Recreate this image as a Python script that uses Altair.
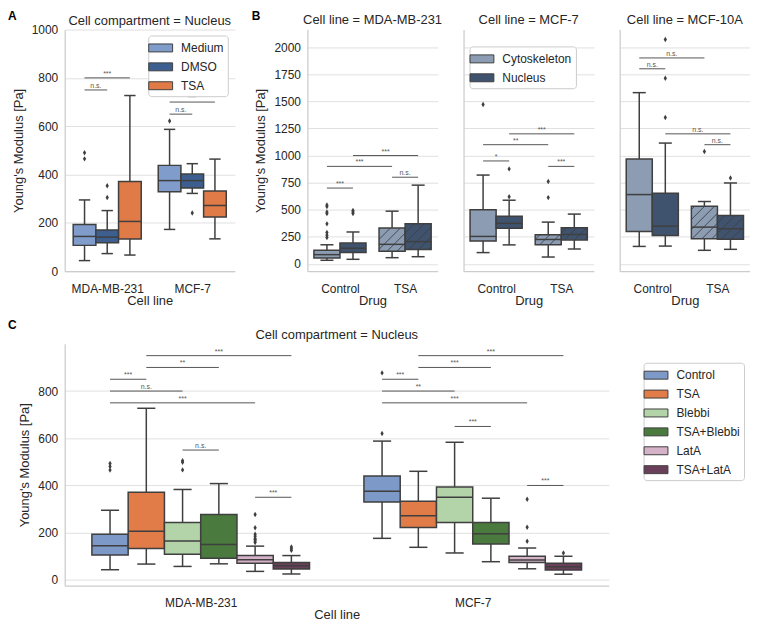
import altair as alt
import pandas as pd

FONT = "Liberation Sans"
INK = "#262626"
EDGE = "#3f3f3f"
SIGC = "#555555"
RECT_PATH = "M-1.5,-0.5H1.5V0.5H-1.5Z"
DIAMOND = "M0,-1L0.6,0L0,1L-0.6,0Z"
HATCH_STEP = 10  # pixel spacing of the "/" hatch

# ---------------- Panel A (Nucleus) ----------------
A_CELLS = ["MDA-MB-231", "MCF-7"]
A_DRUGS = ["Medium", "DMSO", "TSA"]
A_COLORS = ["#7f9ccb", "#3d5f8f", "#e07b48"]
A_LOW = [44, 73, 67, 173, 322, 134]
A_Q1 = [107, 118, 133, 329, 344, 224]
A_MED = [144, 141, 206, 375, 375, 272]
A_Q3 = [193, 171, 371, 438, 402, 332]
A_HIGH = [295, 251, 727, 587, 445, 464]
A_OUT = [[465, 490], [305, 354], [], [622], [241], []]
A_SIG = [
    ("MDA-MB-231", "Medium", "MDA-MB-231", "DMSO", 750, "n.s."),
    ("MDA-MB-231", "Medium", "MDA-MB-231", "TSA", 800, "***"),
    ("MCF-7", "Medium", "MCF-7", "DMSO", 650, "n.s."),
    ("MCF-7", "Medium", "MCF-7", "TSA", 700, "***"),
]

# ---------------- Panel B (per cell line) ----------------
B_CELLS = ["MDA-MB-231", "MCF-7", "MCF-10A"]
B_DRUGS = ["Control", "TSA"]
B_COMPS = ["Cytoskeleton", "Nucleus"]
B_COLORS = ["#8c9db3", "#3f536f"]
# order per cell line: Control-Cyto, Control-Nuc, TSA-Cyto, TSA-Nuc
B_LOW = [34, 43, 58, 67, 105, 176, 64, 138, 162, 165, 126, 135]
B_Q1 = [55, 105, 117, 133, 211, 330, 178, 222, 300, 263, 233, 227]
B_MED = [86, 145, 181, 206, 254, 375, 226, 272, 640, 349, 340, 325]
B_Q3 = [126, 193, 331, 371, 499, 440, 270, 333, 968, 652, 533, 447]
B_HIGH = [177, 295, 487, 727, 820, 588, 386, 460, 1580, 1115, 576, 747]
B_OUT = [
    [245, 265, 290, 370, 465, 480, 530, 545], [465, 480, 493], [], [],
    [1470], [620, 877], [612, 760], [],
    [], [1351, 1712, 2071], [1038], [793],
]
B_SIG = {
    "MDA-MB-231": [
        ("Control", "Cytoskeleton", "Control", "Nucleus", 700, "***"),
        ("TSA", "Cytoskeleton", "TSA", "Nucleus", 800, "n.s."),
        ("Control", "Cytoskeleton", "TSA", "Cytoskeleton", 900, "***"),
        ("Control", "Nucleus", "TSA", "Nucleus", 1000, "***"),
    ],
    "MCF-7": [
        ("Control", "Cytoskeleton", "Control", "Nucleus", 950, "*"),
        ("TSA", "Cytoskeleton", "TSA", "Nucleus", 900, "***"),
        ("Control", "Cytoskeleton", "TSA", "Cytoskeleton", 1100, "**"),
        ("Control", "Nucleus", "TSA", "Nucleus", 1200, "***"),
    ],
    "MCF-10A": [
        ("Control", "Cytoskeleton", "Control", "Nucleus", 1800, "n.s."),
        ("Control", "Cytoskeleton", "TSA", "Cytoskeleton", 1900, "n.s."),
        ("TSA", "Cytoskeleton", "TSA", "Nucleus", 1100, "n.s."),
        ("Control", "Nucleus", "TSA", "Nucleus", 1200, "n.s."),
    ],
}

# ---------------- Panel C (Nucleus) ----------------
C_CELLS = ["MDA-MB-231", "MCF-7"]
C_DRUGS = ["Control", "TSA", "Blebbi", "TSA+Blebbi", "LatA", "TSA+LatA"]
C_COLORS = ["#7d99c7", "#e17c48", "#b3d4a8", "#4a7a3d", "#d5b2c8", "#6a3f59"]
C_LOW = [43, 67, 57, 68, 36, 25, 176, 138, 114, 77, 47, 24]
C_Q1 = [105, 133, 109, 92, 70, 46, 330, 222, 243, 152, 74, 42]
C_MED = [145, 206, 165, 150, 85, 60, 375, 272, 350, 195, 84, 56]
C_Q3 = [193, 371, 243, 277, 103, 74, 440, 333, 394, 243, 100, 70]
C_HIGH = [295, 727, 383, 408, 143, 103, 588, 460, 583, 346, 135, 100]
C_OUT = [
    [465, 480, 493], [], [466, 498, 505], [], [158, 165, 170, 175, 185, 193, 221, 277], [125, 132, 139],
    [620, 877], [], [], [], [164, 223, 342], [114],
]
C_SIG = []
for _cell, _levels in [("MDA-MB-231", ["***", "n.s.", "***", "**", "***", "n.s.", "***"]),
                       ("MCF-7", ["***", "**", "***", "***", "***", "***", "***"])]:
    _pairs = [("Control", "TSA", 850), ("Control", "Blebbi", 800), ("Control", "LatA", 750),
              ("TSA", "TSA+Blebbi", 900), ("TSA", "TSA+LatA", 950),
              ("Blebbi", "TSA+Blebbi", 550 if _cell == "MDA-MB-231" else 650),
              ("LatA", "TSA+LatA", 350 if _cell == "MDA-MB-231" else 400)]
    for (h1, h2, lv), lab in zip(_pairs, _levels):
        C_SIG.append((_cell, h1, _cell, h2, lv, lab))


def dodge(ci, hi, nh):
    return ci + (hi - (nh - 1) / 2) * 0.8 / nh


def label_layer(text, x, y, **kw):
    return alt.Chart(pd.DataFrame({"t": [text]})).mark_text(font=FONT, **kw).encode(
        x=alt.value(x), y=alt.value(y), text="t:N")


def hatch_segments(r, xdom, ydom, width, height):
    """'/' hatch lines clipped to one box, returned in data units."""
    kx = width / (xdom[1] - xdom[0])
    ky = height / (ydom[1] - ydom[0])
    X0, X1 = (r["left"] - xdom[0]) * kx, (r["right"] - xdom[0]) * kx
    Y0, Y1 = (r["q1"] - ydom[0]) * ky, (r["q3"] - ydom[0]) * ky
    segs = []
    c = (int((X0 - Y1) // HATCH_STEP) + 1) * HATCH_STEP
    while c < X1 - Y0:
        xa, xb = max(X0, Y0 + c), min(X1, Y1 + c)
        if xb - xa > 0.5:
            segs.append(dict(hx1=xa / kx + xdom[0], hx2=xb / kx + xdom[0],
                             hy1=(xa - c) / ky + ydom[0], hy2=(xb - c) / ky + ydom[0]))
        c += HATCH_STEP
    return segs


def panel(cats, hues, colors, low, q1, med, q3, high, outs, sig, *, width, height,
          ydomain, yticks, title, title_y, xtitle, ytitle, show_y, legend, letter=None,
          hatch_cats=()):
    nh = len(hues)
    slot = 0.8 / nh
    xdom = [-0.5, len(cats) - 0.5]
    rows, orows, hrows = [], [], []
    k = 0
    for ci, c in enumerate(cats):
        for hi, h in enumerate(hues):
            p = dodge(ci, hi, nh)
            r = dict(cat=c, hue=h, pos=p, left=p - slot / 2, right=p + slot / 2,
                     capl=p - slot / 4, capr=p + slot / 4, low=low[k], q1=q1[k],
                     med=med[k], q3=q3[k], high=high[k])
            rows.append(r)
            if c in hatch_cats:
                hrows.extend(hatch_segments(r, xdom, ydomain, width, height))
            for v in outs[k]:
                orows.append(dict(pos=p, val=v))
            k += 1
    box_df = pd.DataFrame(rows)
    srows = []
    for c1, h1, c2, h2, lv, lab in sig:
        x1 = dodge(cats.index(c1), hues.index(h1), nh)
        x2 = dodge(cats.index(c2), hues.index(h2), nh)
        srows.append(dict(x1=x1, x2=x2, xm=(x1 + x2) / 2, level=lv, label=lab))
    sig_df = pd.DataFrame(srows)

    xs = alt.Scale(domain=xdom, nice=False, zero=False)
    ys = alt.Scale(domain=ydomain, nice=False, zero=False)
    names = "[" + ",".join("'" + c + "'" for c in cats) + "]"
    xaxis = alt.Axis(values=list(range(len(cats))), labelExpr=names + "[round(datum.value)]",
                     grid=False, ticks=False, tickSize=0, title=xtitle, labelPadding=12,
                     titlePadding=0)
    if show_y:
        yaxis = alt.Axis(values=yticks, grid=True, ticks=False, tickSize=0, title=ytitle,
                         format="d", labelPadding=7, titlePadding=6)
    else:
        yaxis = alt.Axis(values=yticks, grid=True, ticks=False, tickSize=0, labels=False,
                         title=None)

    X = lambda f: alt.X(f + ":Q", scale=xs, axis=xaxis)
    Y = lambda f: alt.Y(f + ":Q", scale=ys, axis=yaxis)

    base = alt.Chart(box_df)
    rule = dict(color=EDGE, strokeWidth=1.5)
    layers = [
        base.mark_rule(**rule).encode(x=X("pos"), y=Y("low"), y2="q1:Q"),
        base.mark_rule(**rule).encode(x=X("pos"), y=Y("q3"), y2="high:Q"),
        base.mark_rule(**rule).encode(x=X("capl"), x2="capr:Q", y=Y("low")),
        base.mark_rule(**rule).encode(x=X("capl"), x2="capr:Q", y=Y("high")),
        base.mark_rect(stroke=EDGE, strokeWidth=1.5).encode(
            x=X("left"), x2="right:Q", y=Y("q1"), y2="q3:Q",
            fill=alt.Fill("hue:N", scale=alt.Scale(domain=hues, range=colors), legend=legend)),
    ]
    if hrows:
        layers.append(alt.Chart(pd.DataFrame(hrows)).mark_rule(
            color=EDGE, strokeWidth=0.9).encode(x=X("hx1"), x2="hx2:Q", y=Y("hy1"), y2="hy2:Q"))
    layers.append(base.mark_rule(**rule).encode(x=X("left"), x2="right:Q", y=Y("med")))
    if orows:
        layers.append(alt.Chart(pd.DataFrame(orows)).mark_point(
            shape=DIAMOND, filled=True, color=EDGE, size=30, opacity=1).encode(
            x=X("pos"), y=Y("val")))
    if srows:
        layers.append(alt.Chart(sig_df).mark_rule(color=SIGC, strokeWidth=1).encode(
            x=X("x1"), x2="x2:Q", y=Y("level")))
        layers.append(alt.Chart(sig_df).mark_text(
            fontSize=7, color=SIGC, font=FONT, baseline="bottom", dy=-1).encode(
            x=X("xm"), y=Y("level"), text="label:N"))
    layers.append(label_layer(title, width / 2, title_y, fontSize=13, color=INK,
                              align="center", baseline="middle"))
    if letter is not None:
        t, lx, ly = letter
        layers.append(label_layer(t, lx, ly, fontSize=12, fontWeight="bold", color="black",
                                  align="left", baseline="top"))
    return alt.layer(*layers).properties(width=width, height=height)


def frame_legend(**kw):
    return alt.Legend(title=None, symbolType=RECT_PATH, symbolSize=256,
                      symbolStrokeColor=EDGE, symbolStrokeWidth=1, labelFontSize=12,
                      labelOffset=12, strokeColor="#cccccc", fillColor="white",
                      padding=4, cornerRadius=3, rowPadding=4, **kw)


chartA = panel(A_CELLS, A_DRUGS, A_COLORS, A_LOW, A_Q1, A_MED, A_Q3, A_HIGH, A_OUT, A_SIG,
               width=171, height=243, ydomain=[0, 1000], yticks=list(range(0, 1001, 200)),
               title="Cell compartment = Nucleus", title_y=-8.5, xtitle="Cell line",
               ytitle="Young's Modulus [Pa]", show_y=True,
               legend=frame_legend(orient="none", legendX=84, legendY=6),
               letter=("A", -57, -18.7))

b_charts = []
for i, cell in enumerate(B_CELLS):
    s = slice(4 * i, 4 * i + 4)
    b_charts.append(panel(
        B_DRUGS, B_COMPS, B_COLORS, B_LOW[s], B_Q1[s], B_MED[s], B_Q3[s], B_HIGH[s], B_OUT[s],
        B_SIG[cell], width=131, height=243, ydomain=[-67, 2162],
        yticks=list(range(0, 2001, 250)), title="Cell line = " + cell, title_y=-9.5,
        xtitle="Drug", ytitle="Young's Modulus [Pa]", show_y=(i == 0),
        legend=(frame_legend(orient="none", legendX=6, legendY=17) if i == 1 else None),
        letter=(("B", -56, -18.7) if i == 0 else None), hatch_cats=("TSA",)))

chartC = panel(C_CELLS, C_DRUGS, C_COLORS, C_LOW, C_Q1, C_MED, C_Q3, C_HIGH, C_OUT, C_SIG,
               width=547, height=243, ydomain=[-24, 1000], yticks=list(range(0, 801, 200)),
               title="Cell compartment = Nucleus", title_y=-8.5, xtitle="Cell line",
               ytitle="Young's Modulus [Pa]", show_y=True,
               legend=frame_legend(orient="none", legendX=582, legendY=19),
               letter=("C", -57, -23.7))

RES = dict(x="independent", y="independent", fill="independent")
rowB = alt.hconcat(*b_charts, spacing=26, bounds="flush").resolve_scale(**RES).resolve_legend(
    fill="independent")
top = alt.hconcat(chartA, rowB, spacing=73, bounds="flush").resolve_scale(**RES).resolve_legend(
    fill="independent")
chart = alt.vconcat(top, chartC, spacing=12).resolve_scale(**RES).resolve_legend(
    fill="independent").properties(padding={"left": 0, "top": 0, "right": 0, "bottom": 0})

chart = chart.configure_axis(
    domainColor="#cccccc", domainWidth=1.25, gridColor="#e0e0e0", gridWidth=1,
    labelFont=FONT, labelFontSize=12, labelColor=INK, titleFont=FONT, titleFontSize=13,
    titleColor=INK, titleFontWeight="normal",
).configure_legend(
    labelFont=FONT, labelColor=INK,
).configure_view(strokeWidth=0)

chart.save("out.html", embed_options={"renderer": "svg", "actions": False})
